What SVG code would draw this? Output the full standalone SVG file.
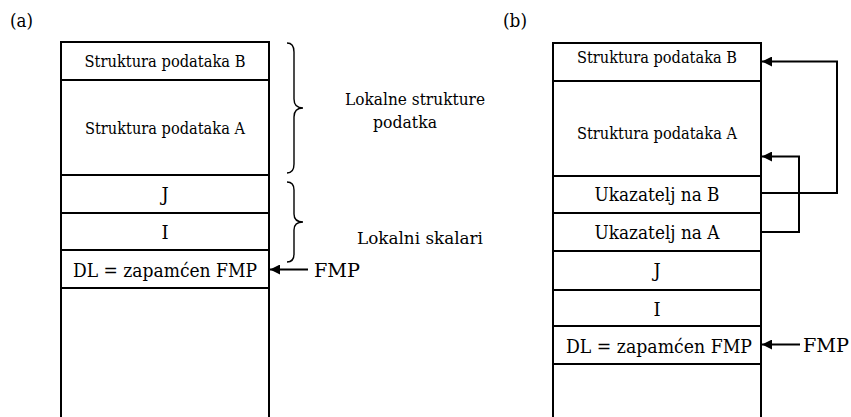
<svg xmlns="http://www.w3.org/2000/svg" width="851" height="417" viewBox="0 0 851 417">
  <style>
    text { font-family: "DejaVu Serif", serif; fill: #000; }
    .cell { fill: #fff; stroke: #000; stroke-width: 2; }
    .lbl { text-anchor: middle; }
    .s16 { font-size: 16px; }
    .s17 { font-size: 17.5px; }
    .s18 { font-size: 18px; }
    .brace { fill: none; stroke: #000; stroke-width: 1.4; }
    .wire { fill: none; stroke: #000; stroke-width: 2; }
  </style>
  <defs>
    <marker id="head" viewBox="0 0 10 10" refX="10" refY="5" markerWidth="10" markerHeight="10" markerUnits="userSpaceOnUse" orient="auto">
      <path d="M0,0 L10,5 L0,10 Z" fill="#000"/>
    </marker>
  </defs>

  <rect width="851" height="417" fill="#fff"/>

  <!-- panel labels -->
  <text x="10" y="27" class="s18" textLength="23" lengthAdjust="spacingAndGlyphs">(a)</text>
  <text x="503" y="27" class="s18" textLength="24" lengthAdjust="spacingAndGlyphs">(b)</text>

  <!-- stack (a) -->
  <g id="a-struct-b"><rect class="cell" x="61" y="42" width="208" height="38"/><text class="lbl s16" x="165" y="67" textLength="161" lengthAdjust="spacingAndGlyphs">Struktura podataka B</text></g>
  <g id="a-struct-a"><rect class="cell" x="61" y="80" width="208" height="95"/><text class="lbl s16" x="165" y="134" textLength="160" lengthAdjust="spacingAndGlyphs">Struktura podataka A</text></g>
  <g id="a-j"><rect class="cell" x="61" y="175" width="208" height="38"/><text class="lbl s18" x="165" y="201">J</text></g>
  <g id="a-i"><rect class="cell" x="61" y="213" width="208" height="37"/><text class="lbl s18" x="165" y="239">I</text></g>
  <g id="a-dl"><rect class="cell" x="61" y="250" width="208" height="38"/><text class="lbl s18" x="165" y="277" textLength="184" lengthAdjust="spacingAndGlyphs">DL = zapamćen FMP</text></g>
  <g id="a-free"><rect class="cell" x="61" y="288" width="208" height="140"/></g>

  <!-- braces and notes (a) -->
  <g id="a-brace-structs">
    <path class="brace" d="M287,43 Q294,43 294,52 L294,99 Q294,108 303,108 Q294,108 294,117 L294,164 Q294,173 287,173"/>
    <text class="lbl s17" x="415" y="105" textLength="140" lengthAdjust="spacingAndGlyphs">Lokalne strukture</text>
    <text class="lbl s17" x="405" y="128" textLength="64" lengthAdjust="spacingAndGlyphs">podatka</text>
  </g>
  <g id="a-brace-scalars">
    <path class="brace" d="M287,182 Q294,182 294,190 L294,214 Q294,222 303,222 Q294,222 294,230 L294,254 Q294,262 287,262"/>
    <text class="lbl s17" x="420" y="244" textLength="126" lengthAdjust="spacingAndGlyphs">Lokalni skalari</text>
  </g>
  <g id="a-fmp"><text x="314" y="277" class="s18" textLength="46" lengthAdjust="spacingAndGlyphs">FMP</text></g>

  <!-- stack (b) -->
  <g id="b-struct-b"><rect class="cell" x="553" y="43" width="208" height="38"/><text class="lbl s16" x="657" y="63" textLength="160" lengthAdjust="spacingAndGlyphs">Struktura podataka B</text></g>
  <g id="b-struct-a"><rect class="cell" x="553" y="81" width="208" height="95"/><text class="lbl s16" x="657" y="139" textLength="160" lengthAdjust="spacingAndGlyphs">Struktura podataka A</text></g>
  <g id="b-ptr-b"><rect class="cell" x="553" y="176" width="208" height="37"/><text class="lbl s18" x="657" y="201" textLength="125" lengthAdjust="spacingAndGlyphs">Ukazatelj na B</text></g>
  <g id="b-ptr-a"><rect class="cell" x="553" y="213" width="208" height="38"/><text class="lbl s18" x="657" y="239" textLength="125" lengthAdjust="spacingAndGlyphs">Ukazatelj na A</text></g>
  <g id="b-j"><rect class="cell" x="553" y="251" width="208" height="39"/><text class="lbl s18" x="657" y="277">J</text></g>
  <g id="b-i"><rect class="cell" x="553" y="290" width="208" height="36"/><text class="lbl s18" x="657" y="316">I</text></g>
  <g id="b-dl"><rect class="cell" x="553" y="326" width="208" height="38"/><text class="lbl s18" x="659" y="353" textLength="186" lengthAdjust="spacingAndGlyphs">DL = zapamćen FMP</text></g>
  <g id="b-free"><rect class="cell" x="553" y="364" width="208" height="64"/></g>
  <g id="b-fmp"><text x="803" y="352" class="s18" textLength="46" lengthAdjust="spacingAndGlyphs">FMP</text></g>

  <!-- connectors -->
  <g id="connectors">
    <path class="wire" d="M308,269.5 L270,269.5" marker-end="url(#head)"/>
    <path class="wire" d="M761,193 L837,193 L837,61.5 L762,61.5" marker-end="url(#head)"/>
    <path class="wire" d="M761,232 L799,232 L799,156.5 L762,156.5" marker-end="url(#head)"/>
    <path class="wire" d="M800,344.5 L762,344.5" marker-end="url(#head)"/>
  </g>
</svg>
